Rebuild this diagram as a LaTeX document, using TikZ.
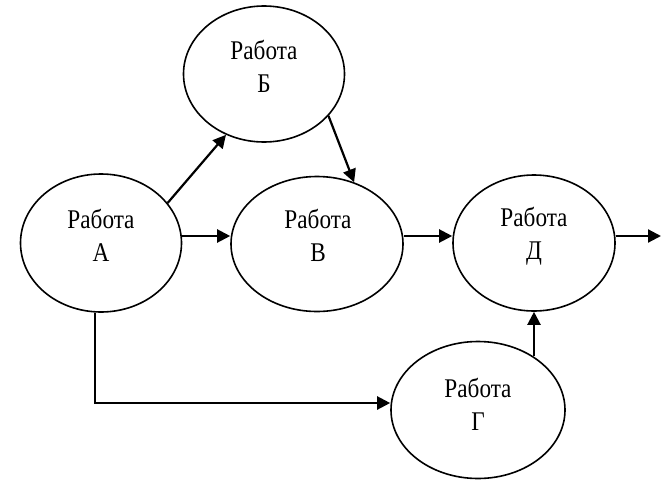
\documentclass[tikz,border=0pt]{standalone}
\usepackage{fontspec}
\setmainfont{Liberation Serif}[FakeStretch=0.86]
\usetikzlibrary{shapes.geometric,arrows.meta}

\begin{document}
\begin{tikzpicture}[x=1pt,y=-1pt,
  work/.style={ellipse,draw,line width=1.6pt,inner sep=0pt},
  caption/.style={align=center,font=\fontsize{27}{33}\selectfont,inner sep=0pt},
  arr/.style={line width=2.2pt,-{Triangle[length=13pt,width=13pt]}}]
\useasboundingbox (0,0) rectangle (661,482);

% work ellipses
\node[work,minimum width=161pt,minimum height=138pt] (A) at (101,243) {};
\node[work,minimum width=161pt,minimum height=136pt] (B) at (264,74) {};
\node[work,minimum width=172pt,minimum height=135pt] (V) at (317,244) {};
\node[work,minimum width=162pt,minimum height=136pt] (D) at (534,243) {};
\node[work,minimum width=174pt,minimum height=137pt] (G) at (478,410) {};

% captions
\node[caption] (tA) at (101,235) {Работа\\А};
\node[caption] (tB) at (264,66) {Работа\\Б};
\node[caption] (tV) at (318,235) {Работа\\В};
\node[caption] (tD) at (534,236) {Работа\\Д};
\node[caption] (tG) at (478,404) {Работа\\Г};

% connectors
\coordinate (axis) at (0,236);
\coordinate (exit) at (661,236);
\draw[arr] (A.31) -- (B.238);
\draw[arr] (B.-33) -- (V.59);
\draw[arr] (A.east |- axis) -- (V.west |- axis);
\draw[arr] (V.east |- axis) -- (D.west |- axis);
\draw[arr] (D.east |- axis) -- (exit);
\draw[arr] (G.45 -| D.south) -- (D.south);
\draw[arr] ([xshift=-6pt]A.south) |- ([yshift=7pt]G.west);
\end{tikzpicture}
\end{document}
